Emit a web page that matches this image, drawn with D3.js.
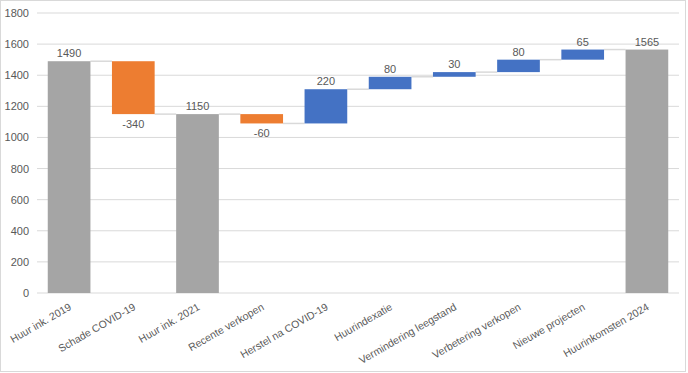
<!DOCTYPE html>
<html>
<head>
<meta charset="utf-8">
<script src="https://cdn.jsdelivr.net/npm/d3@7"></script>
<style>
  body { margin: 0; background: #ffffff; }
  text { font-family: "Liberation Sans", Arial, sans-serif; fill: #595959; }
</style>
</head>
<body>
<div id="chart"></div>
<script>
// Data
let categories = ["Huur ink. 2019", "Schade COVID-19", "Huur ink. 2021", "Recente verkopen",
    "Herstel na COVID-19", "Huurindexatie", "Vermindering leegstand", "Verbetering verkopen",
    "Nieuwe projecten", "Huurinkomsten 2024"];
let values = [1490, -340, 1150, -60, 220, 80, 30, 80, 65, 1565];
let kinds = ["total", "delta", "total", "delta", "delta", "delta", "delta", "delta", "delta", "total"];
let yTicks = [0, 200, 400, 600, 800, 1000, 1200, 1400, 1600, 1800];

// Build waterfall rows
let running = 0;
let rows = categories.map(function(c, i) {
    let v = values[i], start, end;
    if (kinds[i] === "total") { start = 0; end = v; running = v; }
    else { start = running; end = running + v; running = end; }
    return {name: c, value: v, kind: kinds[i], start: start, end: end};
});

let W = 688, H = 373;
let margin = {top: 13, right: 9, bottom: 80, left: 37},
    width = 679 - margin.left,
    height = 293 - margin.top;

let svg = d3.select("#chart").append("svg")
    .attr("width", W)
    .attr("height", H);

// Outer frame
svg.append("rect")
    .attr("x", 0.5).attr("y", 0.5)
    .attr("width", 685).attr("height", 371)
    .attr("fill", "none")
    .attr("stroke", "#d9d9d9");

let g = svg.append("g")
    .attr("transform", "translate(" + margin.left + "," + margin.top + ")");

let x = d3.scaleBand().domain(categories).range([0, width]).paddingInner(0.335).paddingOuter(0.1675);
let y = d3.scaleLinear().domain([0, 1800]).range([height, 0]);

// Gridlines
g.selectAll(".grid")
    .data(yTicks)
    .enter().append("line")
    .attr("x1", 0).attr("x2", width)
    .attr("y1", function(d) { return y(d); })
    .attr("y2", function(d) { return y(d); })
    .attr("stroke", "#d9d9d9")
    .attr("stroke-width", 1);

// Y axis labels
let yAxis = g.append("g")
    .call(d3.axisLeft(y).tickValues(yTicks).tickFormat(d3.format("d")).tickSize(0).tickPadding(8));
yAxis.select(".domain").remove();
yAxis.selectAll("text").style("font-size", "11px").attr("fill", "#595959");

// Connectors
g.selectAll(".conn")
    .data(rows.slice(0, -1))
    .enter().append("line")
    .attr("x1", function(d) { return x(d.name) + x.bandwidth(); })
    .attr("x2", function(d, i) { return x(rows[i + 1].name); })
    .attr("y1", function(d) { return y(d.end); })
    .attr("y2", function(d) { return y(d.end); })
    .attr("stroke", "#d9d9d9")
    .attr("stroke-width", 1.5);

function color(d) {
    if (d.kind === "total") return "#a5a5a5";
    return d.value < 0 ? "#ed7d31" : "#4472c4";
}

// Bars
g.selectAll(".bar")
    .data(rows)
    .enter().append("rect")
    .attr("x", function(d) { return x(d.name); })
    .attr("width", x.bandwidth())
    .attr("y", function(d) { return y(Math.max(d.start, d.end)); })
    .attr("height", function(d) { return Math.abs(y(d.start) - y(d.end)); })
    .attr("fill", color);

// Value labels
g.selectAll(".lbl")
    .data(rows)
    .enter().append("text")
    .attr("x", function(d) { return x(d.name) + x.bandwidth() / 2; })
    .attr("y", function(d) {
        return d.value < 0 ? y(d.end) + 14 : y(Math.max(d.start, d.end)) - 4;
    })
    .attr("text-anchor", "middle")
    .style("font-size", "11px")
    .text(function(d) { return d.value; });

// X labels
g.selectAll(".xl")
    .data(categories)
    .enter().append("text")
    .attr("transform", function(d) {
        return "translate(" + (x(d) + x.bandwidth() / 2 + 3) + "," + (height + 16) + ") rotate(-30)";
    })
    .attr("text-anchor", "end")
    .style("font-size", "10.5px")
    .text(function(d) { return d; });
</script>
</body>
</html>
